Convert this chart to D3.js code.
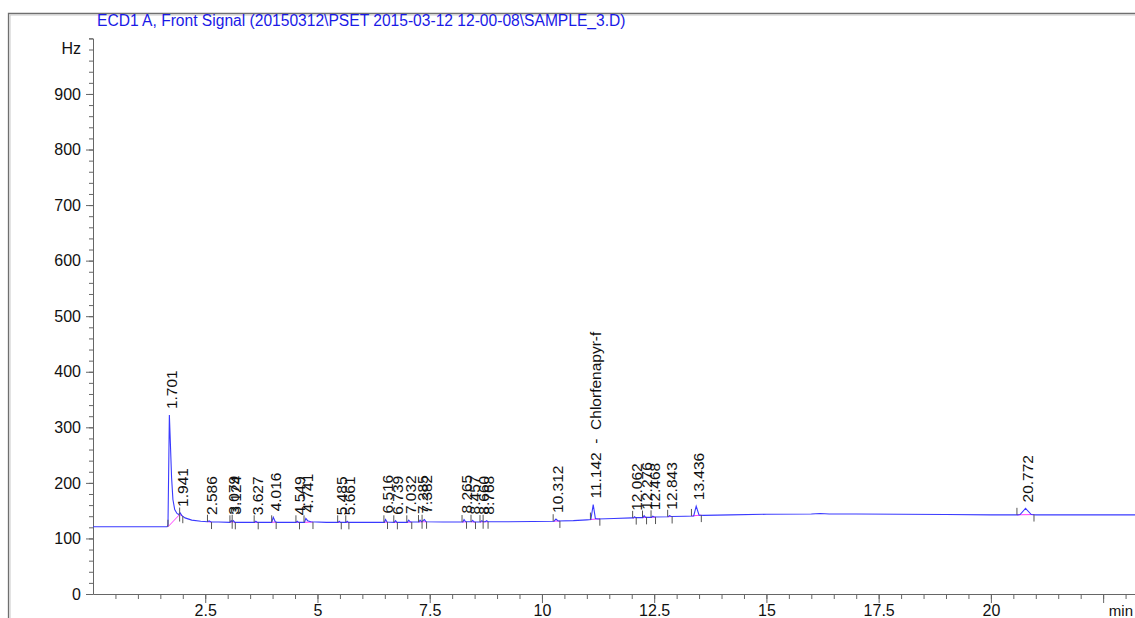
<!DOCTYPE html>
<html>
<head>
<meta charset="utf-8">
<script src="https://cdn.jsdelivr.net/npm/d3@7"></script>
<style>
  body { margin: 0; background: #fff; }
  svg { display: block; font-family: Arial, "Liberation Sans", sans-serif; }
</style>
</head>
<body>
<svg id="chart"></svg>
<script>
const w = 1135;
const h = 618;

// signal trace [time (min), Hz]
const signal = [
  [0, 121], [0.8, 121], [1.65, 121], [1.67, 124], [1.69, 250], [1.701, 322], [1.72, 280],
  [1.75, 210], [1.78, 170], [1.82, 152], [1.87, 145], [1.91, 143], [1.941, 146], [1.98, 141],
  [2.05, 137], [2.2, 133], [2.4, 131], [2.55, 130], [2.586, 131.5], [2.63, 129.5], [2.8, 129.5],
  [3.05, 129], [3.079, 132], [3.1, 130], [3.124, 132], [3.16, 129], [3.4, 129],
  [3.6, 129], [3.627, 131], [3.66, 129], [3.98, 129], [4.016, 138], [4.06, 130], [4.1, 129],
  [4.3, 129], [4.52, 129], [4.549, 131], [4.58, 129], [4.71, 129], [4.741, 136], [4.78, 132],
  [4.85, 130], [5.2, 129], [5.46, 129], [5.485, 131], [5.51, 129], [5.64, 129], [5.661, 131],
  [5.69, 129], [6.0, 129], [6.3, 129], [6.49, 129], [6.516, 134], [6.55, 129.5], [6.71, 129],
  [6.739, 132], [6.77, 129], [7.0, 129], [7.032, 133], [7.07, 129.5], [7.26, 129.5], [7.285, 133],
  [7.32, 130], [7.382, 134], [7.42, 130], [7.8, 129.5], [8.1, 129.5], [8.24, 129.5], [8.265, 134],
  [8.3, 130], [8.43, 130], [8.457, 132.5], [8.49, 129.5], [8.63, 129.5], [8.66, 132], [8.69, 130],
  [8.74, 130], [8.768, 132], [8.8, 130], [9.2, 130], [9.8, 130.5], [10.27, 131], [10.312, 135],
  [10.36, 131.5], [10.7, 132], [11.0, 133.5], [11.09, 134], [11.142, 161], [11.19, 136],
  [11.25, 135], [11.6, 136], [12.0, 137], [12.04, 137], [12.062, 139], [12.09, 137.5],
  [12.25, 137.5], [12.276, 141], [12.31, 138], [12.44, 138], [12.468, 140], [12.5, 138.5],
  [12.81, 139], [12.843, 141], [12.88, 139.5], [13.2, 140], [13.38, 140.5], [13.436, 158],
  [13.5, 142], [13.6, 141.5], [14.2, 142.5], [15, 143.5], [16, 144], [16.2, 145], [16.4, 144],
  [17, 144], [18, 143.5], [19, 143], [20, 142.5], [20.6, 142.5], [20.65, 143], [20.772, 154],
  [20.9, 143], [21, 142.5], [22, 142.5], [23.3, 142.5]
];

// integrated peaks
const peakTimes = [1.701, 1.941, 2.586, 3.079, 3.124, 3.627, 4.016, 4.549, 4.741, 5.485, 5.661,
  6.516, 6.739, 7.032, 7.285, 7.382, 8.265, 8.457, 8.66, 8.768, 10.312, 11.142, 12.062,
  12.276, 12.468, 12.843, 13.436, 20.772];
const peakLabels = ["1.701", "1.941", "2.586", "3.079", "3.124", "3.627", "4.016", "4.549", "4.741",
  "5.485", "5.661", "6.516", "6.739", "7.032", "7.285", "7.382", "8.265", "8.457", "8.660",
  "8.768", "10.312", "11.142  -  Chlorfenapyr-f", "12.062", "12.276", "12.468", "12.843",
  "13.436", "20.772"];
const peakHeights = [322, 146, 131.5, 132, 132, 131, 138, 131, 136, 131, 131, 134, 132, 133, 133,
  134, 134, 132.5, 132, 132, 135, 161, 139, 141, 140, 141, 158, 154];
const peakStarts = [1.67, 1.93, 2.55, 3.05, 3.1, 3.59, 3.98, 4.52, 4.7, 5.45, 5.63, 6.48, 6.7,
  6.99, 7.25, 7.33, 8.22, 8.42, 8.62, 8.69, 10.25, 11.08, 12.02, 12.24, 12.43, 12.8, 13.33, 20.58];
const startLevels = [121, 143, 130, 129, 130, 129, 129, 129, 129, 129, 129, 129, 129, 129, 129.5,
  130, 129.5, 130, 129.5, 130, 131, 134, 137, 137.5, 138, 139, 140.5, 142.5];
const peakEnds = [1.93, 2.0, 2.64, 3.1, 3.17, 3.68, 4.08, 4.6, 4.9, 5.53, 5.7, 6.56, 6.78, 7.1,
  7.33, 7.43, 8.32, 8.52, 8.69, 8.8, 10.4, 11.29, 12.1, 12.33, 12.53, 12.9, 13.55, 20.96];
const endLevels = [143, 140, 129.5, 130, 129, 129, 129.5, 129, 129.5, 129, 129, 129.5, 129, 129.5,
  130, 130, 130, 129.5, 130, 130, 131.5, 135.5, 137.5, 138, 138.5, 139.5, 142, 143];

const yTicks = [0, 100, 200, 300, 400, 500, 600, 700, 800, 900];
const xTicks = [2.5, 5, 7.5, 10, 12.5, 15, 17.5, 20];

const title = "ECD1 A, Front Signal (20150312\\PSET 2015-03-12 12-00-08\\SAMPLE_3.D)";

const svg = d3.select("#chart")
              .attr("width", w)
              .attr("height", h);

const xScale = d3.scaleLinear()
                 .domain([0, 23.21])
                 .range([93, 1135]);
const yScale = d3.scaleLinear()
                 .domain([0, 1000])
                 .range([594, 38.4]);

// frame
svg.append("path")
   .attr("d", `M8.5,${h} V13.5 H${w}`)
   .attr("fill", "none")
   .attr("stroke", "#6f6f6f")
   .attr("stroke-width", 1.3);
svg.append("path")
   .attr("d", `M10,${h} V15 H${w}`)
   .attr("fill", "none")
   .attr("stroke", "#c8c8c8")
   .attr("stroke-width", 1);

svg.append("text")
   .attr("x", 97)
   .attr("y", 26)
   .attr("fill", "#1a1ae6")
   .style("font-size", "15.6px")
   .text(title);

// y axis
const yMinor = d3.range(0, 1001, 20);
svg.append("g")
   .attr("transform", "translate(93,0)")
   .call(d3.axisLeft(yScale).tickValues(yMinor).tickSize(4).tickFormat(""))
   .call(g => g.selectAll("line,path").attr("stroke", "#666"));
svg.append("g")
   .attr("id", "y-axis")
   .attr("transform", "translate(93,0)")
   .call(d3.axisLeft(yScale).tickValues(yTicks).tickSize(7).tickPadding(5))
   .call(g => g.select(".domain").remove())
   .call(g => g.selectAll("line").attr("stroke", "#666"))
   .call(g => g.selectAll("text").attr("fill", "#111").style("font-size", "16px")
               .style("font-family", "Arial, 'Liberation Sans', sans-serif"));
svg.append("text")
   .attr("x", 81)
   .attr("y", yScale(982))
   .attr("dy", "0.35em")
   .attr("text-anchor", "end")
   .attr("fill", "#111")
   .style("font-size", "16px")
   .text("Hz");

// x axis
const xMinor = d3.range(0.5, 23.2, 0.5);
svg.append("g")
   .attr("transform", "translate(0,594)")
   .call(d3.axisBottom(xScale).tickValues(xMinor).tickSize(5).tickFormat("").tickSizeOuter(0))
   .call(g => g.selectAll("line,path").attr("stroke", "#666"));
svg.append("g")
   .attr("id", "x-axis")
   .attr("transform", "translate(0,594)")
   .call(d3.axisBottom(xScale).tickValues(xTicks.concat([22.5])).tickSize(9).tickPadding(2)
           .tickFormat(d => d === 22.5 ? "" : d))
   .call(g => g.select(".domain").remove())
   .call(g => g.selectAll("line").attr("stroke", "#666"))
   .call(g => g.selectAll("text").attr("fill", "#111").style("font-size", "16px")
               .style("font-family", "Arial, 'Liberation Sans', sans-serif"));
svg.append("text")
   .attr("x", w - 2)
   .attr("y", 616)
   .attr("text-anchor", "end")
   .attr("fill", "#111")
   .style("font-size", "15px")
   .text("min");

// integration baselines
svg.selectAll(".base")
   .data(peakTimes)
   .enter()
   .append("line")
   .attr("class", "base")
   .attr("x1", (d, i) => xScale(peakStarts[i]))
   .attr("y1", (d, i) => yScale(startLevels[i]))
   .attr("x2", (d, i) => xScale(peakEnds[i]))
   .attr("y2", (d, i) => yScale(endLevels[i]))
   .attr("stroke", "#ff3cff")
   .attr("stroke-width", 1);

// signal
const line = d3.line()
               .x(d => xScale(d[0]))
               .y(d => yScale(d[1]));
svg.append("path")
   .datum(signal)
   .attr("d", line)
   .attr("fill", "none")
   .attr("stroke", "#3a3aff")
   .attr("stroke-width", 1.1);

// start / end marks
svg.selectAll(".start-mark")
   .data(peakTimes)
   .enter()
   .append("line")
   .attr("class", "start-mark")
   .attr("x1", (d, i) => xScale(peakStarts[i]))
   .attr("x2", (d, i) => xScale(peakStarts[i]))
   .attr("y1", (d, i) => yScale(startLevels[i]))
   .attr("y2", (d, i) => yScale(startLevels[i]) - 7)
   .attr("stroke", "#555");
svg.selectAll(".end-mark")
   .data(peakTimes)
   .enter()
   .append("line")
   .attr("class", "end-mark")
   .attr("x1", (d, i) => xScale(peakEnds[i]))
   .attr("x2", (d, i) => xScale(peakEnds[i]))
   .attr("y1", (d, i) => yScale(endLevels[i]))
   .attr("y2", (d, i) => yScale(endLevels[i]) + 7)
   .attr("stroke", "#555");

// peak labels
svg.selectAll(".peak-label")
   .data(peakTimes)
   .enter()
   .append("text")
   .attr("class", "peak-label")
   .attr("transform", (d, i) => `translate(${xScale(d) + 7.5},${yScale(peakHeights[i]) - 6}) rotate(-90)`)
   .attr("fill", "#111")
   .style("font-size", "15.5px")
   .style("white-space", "pre")
   .text((d, i) => peakLabels[i]);
</script>
</body>
</html>
